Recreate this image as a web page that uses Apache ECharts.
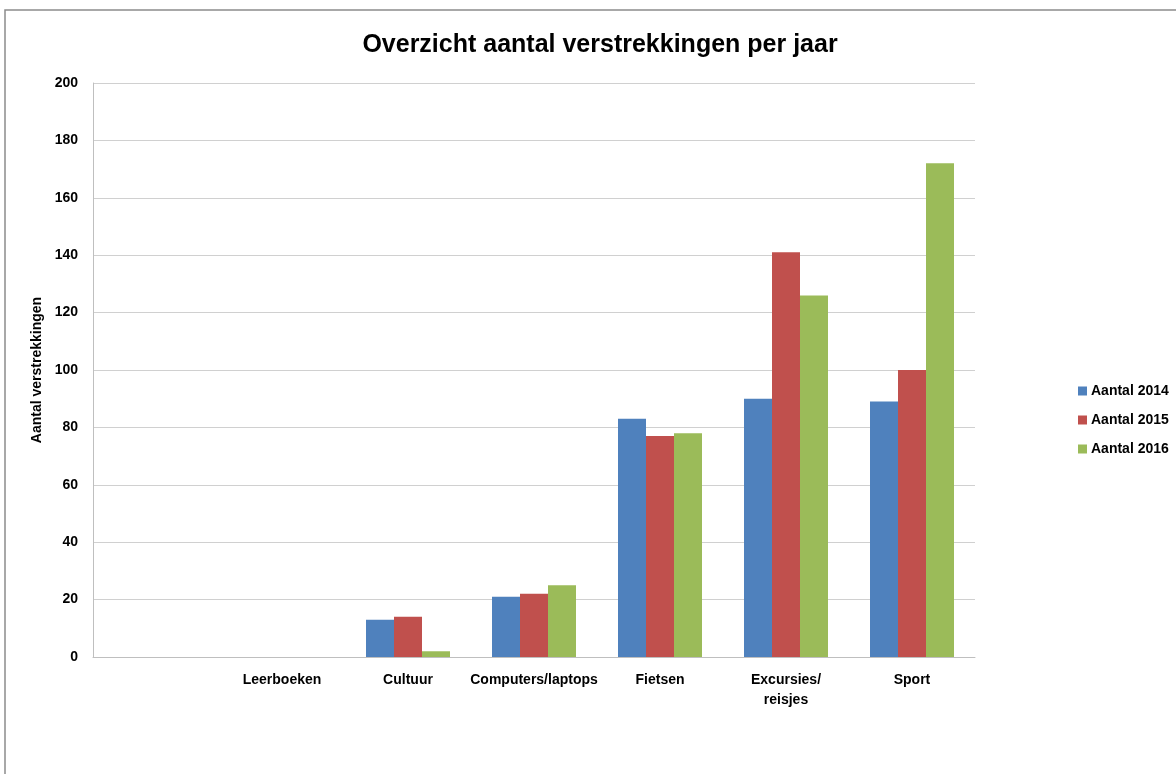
<!DOCTYPE html>
<html>
<head>
<meta charset="utf-8">
<script src="https://cdn.jsdelivr.net/npm/echarts@6/dist/echarts.min.js"></script>
<style>
  html, body { margin: 0; padding: 0; background: #fff; }
  #chart { width: 1176px; height: 774px; }
</style>
</head>
<body>
<div id="chart"></div>
<script>
// categorieen (eerste is leeg, zoals in het origineel)
var categories = ["", "Leerboeken", "Cultuur", "Computers/laptops", "Fietsen", "Excursies/\nreisjes", "Sport"];
var aantal2014 = [0, 0, 13, 21, 83, 90, 89];
var aantal2015 = [0, 0, 14, 22, 77, 141, 100];
var aantal2016 = [0, 0, 2, 25, 78, 126, 172];
var yTicks = [0, 20, 40, 60, 80, 100, 120, 140, 160, 180, 200];

var font = "'Liberation Sans', Arial, sans-serif";

var myChart = echarts.init(document.getElementById("chart"));

function bar(name, data, color) {
  return {
    name: name,
    type: "bar",
    data: data,
    barWidth: 28,
    barGap: "0%",
    itemStyle: { color: color }
  };
}

var option = {
  animation: false,
  backgroundColor: "#fff",
  graphic: [
    {
      type: "rect",
      shape: { x: 5, y: 10, width: 1200, height: 800 },
      style: { fill: "none", stroke: "#8c8c8c", lineWidth: 1.5 },
      silent: true
    }
  ],
  title: {
    text: "Overzicht aantal verstrekkingen per jaar",
    left: 595,
    textAlign: "center",
    top: 28,
    textStyle: { fontFamily: font, fontSize: 25, fontWeight: "bold", color: "#000" }
  },
  legend: {
    orient: "vertical",
    left: 1073,
    top: 379,
    itemWidth: 9,
    itemHeight: 9,
    itemGap: 15,
    icon: "rect",
    data: ["Aantal 2014", "Aantal 2015", "Aantal 2016"],
    textStyle: { fontFamily: font, fontSize: 14, fontWeight: "bold", color: "#000", padding: [0, 0, 0, -1] }
  },
  grid: {
    left: 93,
    right: 201,
    top: 83,
    bottom: 117,
    containLabel: false
  },
  xAxis: {
    type: "category",
    data: categories,
    axisLine: { lineStyle: { color: "#bfbfbf" } },
    axisTick: { show: false },
    axisLabel: {
      interval: 0,
      margin: 13,
      fontFamily: font,
      fontSize: 14,
      fontWeight: "bold",
      color: "#000",
      lineHeight: 20
    }
  },
  yAxis: {
    type: "value",
    min: yTicks[0],
    max: yTicks[yTicks.length - 1],
    interval: 20,
    name: "Aantal verstrekkingen",
    nameLocation: "middle",
    nameGap: 46,
    nameRotate: 90,
    nameTextStyle: { fontFamily: font, fontSize: 14, fontWeight: "bold", color: "#000" },
    axisLine: { show: true, lineStyle: { color: "#bfbfbf" } },
    axisTick: { show: false },
    axisLabel: {
      margin: 15,
      fontFamily: font,
      fontSize: 14,
      fontWeight: "bold",
      color: "#000"
    },
    splitLine: { lineStyle: { color: "#d0d0d0" } }
  },
  series: [
    bar("Aantal 2014", aantal2014, "#4f81bd"),
    bar("Aantal 2015", aantal2015, "#c0504d"),
    bar("Aantal 2016", aantal2016, "#9bbb59")
  ]
};

myChart.setOption(option);
</script>
</body>
</html>
